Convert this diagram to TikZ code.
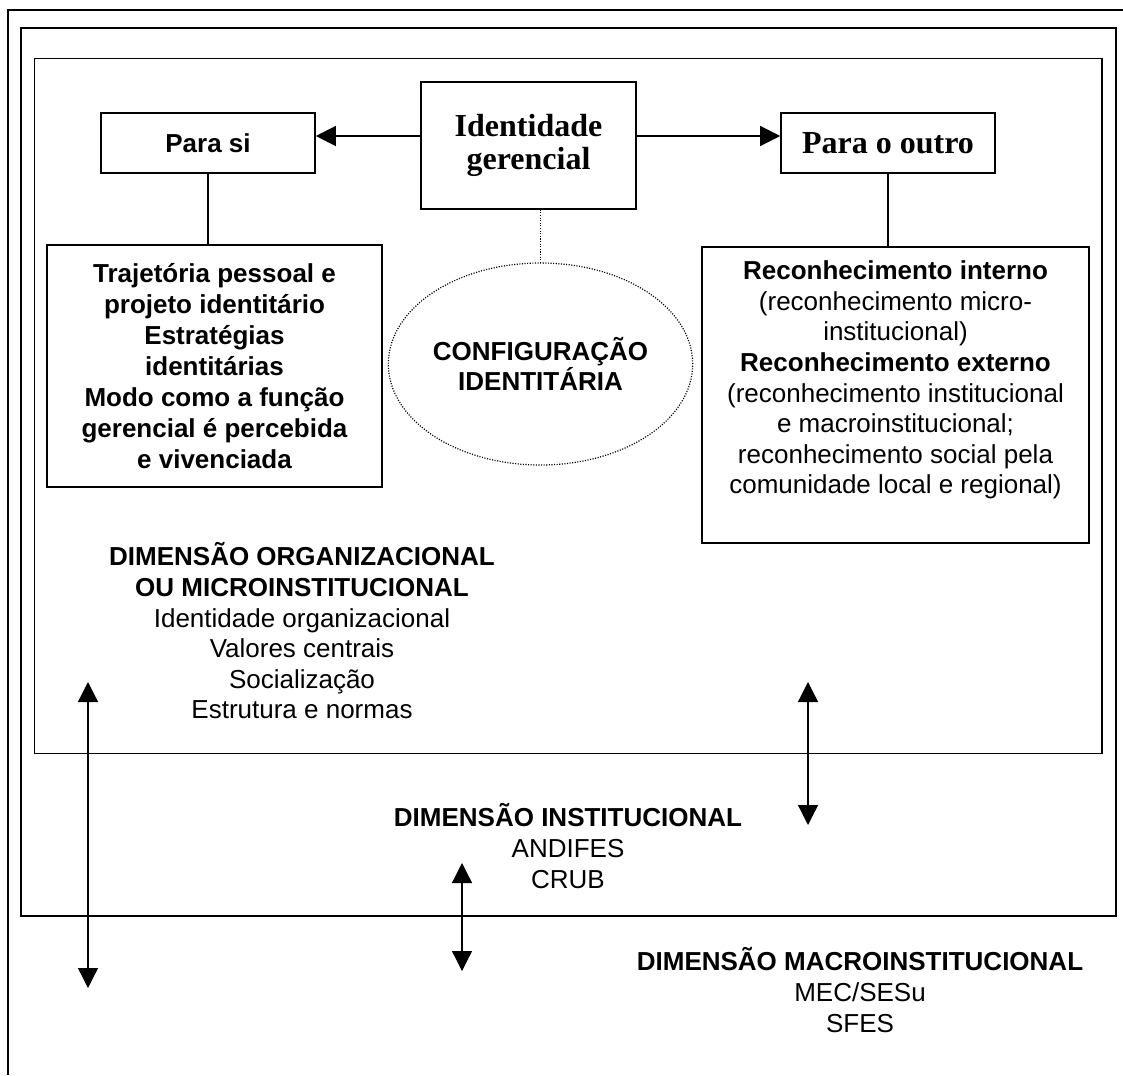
\documentclass[tikz,border=0pt]{standalone}
\usepackage{fontspec}
\setmainfont{Liberation Sans}
\newfontfamily\timesf{Liberation Serif}
\usetikzlibrary{arrows.meta,shapes.geometric}
\begin{document}
\begin{tikzpicture}[x=1pt,y=-1pt,
  frame/.style={line width=1.6pt},
  box/.style={draw,line width=1.6pt,inner sep=0pt,align=center},
  lbl/.style={align=center,inner sep=0pt,font=\fontsize{26}{30.6}\selectfont},
  arr/.style={line width=1.3pt,-{Triangle[width=20pt,length=20pt]}},
  darr/.style={line width=1.3pt,{Triangle[width=20pt,length=20pt]}-{Triangle[width=20pt,length=20pt]}},
  link/.style={line width=1.3pt},
  dotline/.style={line width=1.2pt,dash pattern=on 1.1pt off 1.5pt}
]
\useasboundingbox (0,0) rectangle (1123,1075);
\fill[white] (0,0) rectangle (1123,1075);
% frames
\draw[frame] (8,1075) -- (8,10) -- (1123,10);
\draw[frame] (21,28) rectangle (1116,916);
\draw[frame] (34.5,58.5) rectangle (1102,753.5);

% top boxes
\node[box,minimum width=214pt,minimum height=60pt,font=\fontsize{26}{30}\selectfont\bfseries] (parasi) at (208,143) {Para si};
\node[box,minimum width=215pt,minimum height=127pt,font=\timesf\fontsize{32}{33}\selectfont\bfseries] (ident) at (528.5,145.5) {Identidade\\gerencial};
\node[box,minimum width=214pt,minimum height=60pt,font=\timesf\fontsize{32}{33}\selectfont\bfseries] (paraoutro) at (888,143) {Para o outro};

% lower boxes
\node[box,minimum width=335pt,minimum height=242pt,font=\fontsize{26}{31}\selectfont\bfseries] (leftbox) at (214.5,366)
  {Trajetória pessoal e\\projeto identitário\\Estratégias\\identitárias\\Modo como a função\\gerencial é percebida\\e vivenciada};
\node[box,minimum width=387pt,minimum height=296pt] (rightbox) at (895.5,395) {};
\node[lbl] (rtext) at (895.5,380)
  {\textbf{Reconhecimento interno}\\(reconhecimento micro-\\institucional)\\\textbf{Reconhecimento externo}\\(reconhecimento institucional\\e macroinstitucional;\\reconhecimento social pela\\comunidade local e regional)};

% ellipse
\node[ellipse,draw,dotline,minimum width=295pt,minimum height=202pt,inner sep=0pt,align=center,font=\fontsize{26}{27}\selectfont\bfseries] (config) at (540.5,364) {CONFIGURAÇÃO\\IDENTITÁRIA};

% connectors
\coordinate (aL) at ([yshift=9.5pt]ident.west);
\coordinate (aR) at ([yshift=9.5pt]ident.east);
\draw[arr] (aL) -- (aL -| parasi.east);
\draw[arr] (aR) -- (aR -| paraoutro.west);
\draw[link] (parasi.south) -- (parasi.south |- leftbox.north);
\draw[link] (paraoutro.south) -- (paraoutro.south |- rightbox.north);
\draw[dotline] (config.north |- ident.south) -- (config.north);

% dimension labels
\node[lbl] (dimorg) at (302,631)
  {\textbf{DIMENSÃO ORGANIZACIONAL}\\\textbf{OU MICROINSTITUCIONAL}\\Identidade organizacional\\Valores centrais\\Socialização\\Estrutura e normas};
\node[lbl] (diminst) at (568,846) {\textbf{DIMENSÃO INSTITUCIONAL}\\ANDIFES\\CRUB};
\node[lbl] (dimmacro) at (860,990) {\textbf{DIMENSÃO MACROINSTITUCIONAL}\\MEC/SESu\\SFES};

% double arrows
\coordinate (l1) at (88,682);
\coordinate (l2) at (88,988);
\coordinate (r1) at (808,682);
\coordinate (r2) at (808,825);
\coordinate (m1) at (462,863);
\coordinate (m2) at (462,971);
\draw[darr] (l1) -- (l2);
\draw[darr] (r1) -- (r2);
\draw[darr] (m1) -- (m2);
\end{tikzpicture}
\end{document}
